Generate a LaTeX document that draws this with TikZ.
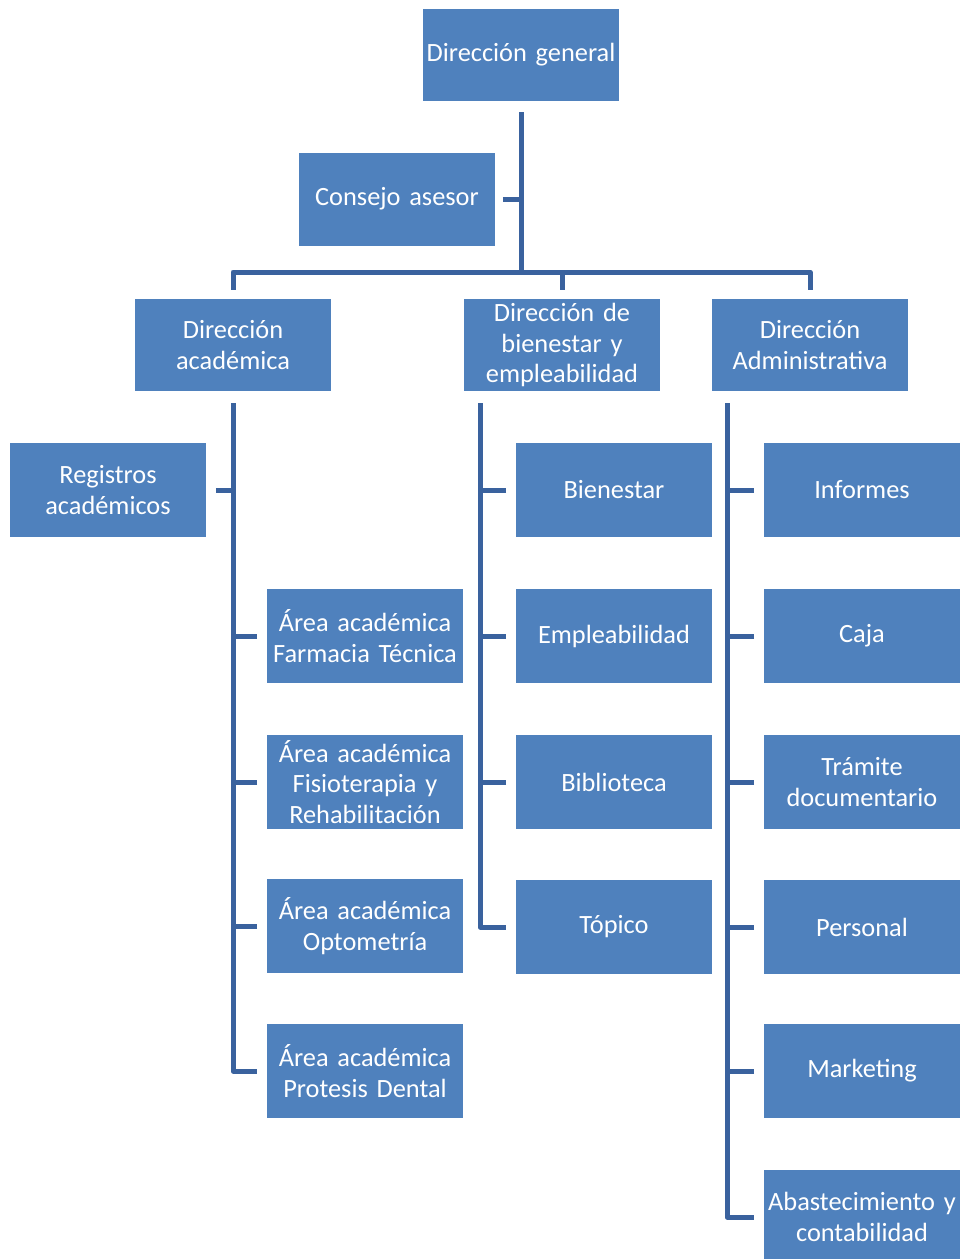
\documentclass[tikz,border=0pt]{standalone}
\usepackage{fontspec}
\setmainfont{Carlito}
\definecolor{boxblue}{RGB}{79,129,189}
\definecolor{lineblue}{RGB}{58,98,158}
\begin{document}
\begin{tikzpicture}[x=0.02cm, y=-0.02cm,
    box/.style={rectangle, fill=boxblue, text=white, inner sep=0pt,
        minimum width=3.94cm, minimum height=1.88cm, text width=3.94cm, align=center,
        font=\fontsize{15pt}{17.5pt}\selectfont},
    headbox/.style={box, minimum height=1.83cm},
    conn/.style={draw=lineblue, line width=0.1cm, line join=round}]
    \useasboundingbox (0,0) rectangle (963,1259);
    \clip (0,0) rectangle (963,1259);
            \node[headbox] (gen) at (521, 55) {Dirección general};
            \node[headbox, minimum height=1.86cm] (cons) at (397, 199) {Consejo asesor};
            \node[headbox] (acad) at (233, 345) {Dirección\\académica};
            \node[headbox] (bien) at (562, 345) {Dirección de\\bienestar y\\empleabilidad};
            \node[headbox] (adm) at (810, 345) {Dirección\\Administrativa};
            \node[box] (reg) at (108, 490) {Registros\\académicos};
            \node[box] (far) at (365, 636) {Área académica\\Farmacia Técnica};
            \node[box] (fis) at (365, 782) {Área académica\\Fisioterapia y\\Rehabilitación};
            \node[box] (opt) at (365, 926) {Área académica\\Optometría};
            \node[box] (pro) at (365, 1071) {Área académica\\Protesis Dental};
            \node[box] (bie) at (614, 490) {Bienestar};
            \node[box] (emp) at (614, 636) {Empleabilidad};
            \node[box] (bib) at (614, 782) {Biblioteca};
            \node[box] (top) at (614, 927) {Tópico};
            \node[box] (inf) at (862, 490) {Informes};
            \node[box] (caj) at (862, 636) {Caja};
            \node[box] (tra) at (862, 782) {Trámite\\documentario};
            \node[box] (per) at (862, 927) {Personal};
            \node[box] (mar) at (862, 1071) {Marketing};
            \node[box] (aba) at (862, 1217) {Abastecimiento y\\contabilidad};
            \coordinate (bus) at (521, 272);
            \coordinate (bline) at ([xshift=0.34cm]bien.south west);
            \coordinate (aline) at ([xshift=0.32cm]adm.south west);
            \draw[conn] (gen.south) ++(0, 11) -- (gen.south |- bus);
            \draw[conn] (cons.east) ++(7, 0) -- (cons.east -| gen.south);
            \draw[conn] (acad.north) ++(0, -9) |- (bus) -| ([yshift=0.18cm]adm.north);
            \draw[conn] ([yshift=0.18cm]bien.north) -- (bien.north |- bus);
            \draw[conn] (acad.south) ++(0, 12) |- ([xshift=-0.18cm]pro.west);
            \draw[conn] ([xshift=0.18cm]reg.east) -- (reg.east -| acad.south);
            \foreach \n in {far, fis, opt}
                \draw[conn] ([xshift=-0.18cm]\n.west) -- (\n.west -| acad.south);
            \draw[conn] (bline) ++(0, 12) |- ([xshift=-0.18cm]top.west);
            \foreach \n in {bie, emp, bib}
                \draw[conn] ([xshift=-0.18cm]\n.west) -- (\n.west -| bline);
            \draw[conn] (aline) ++(0, 12) |- ([xshift=-0.18cm]aba.west);
            \foreach \n in {inf, caj, tra, per, mar}
                \draw[conn] ([xshift=-0.18cm]\n.west) -- (\n.west -| aline);
        \end{tikzpicture}
\end{document}
